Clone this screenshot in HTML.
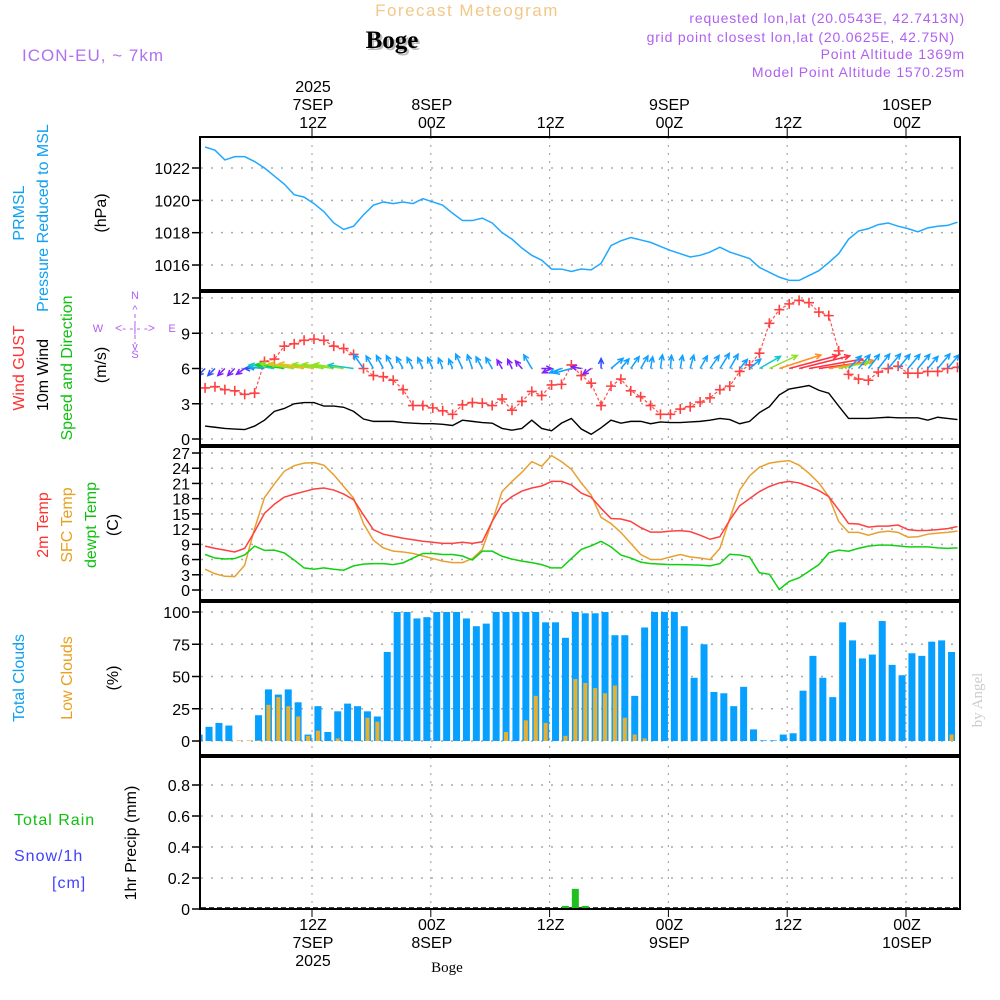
<!DOCTYPE html>
<html><head><meta charset="utf-8"><style>
html,body{margin:0;padding:0;background:#fff;}
svg{display:block;font-family:"Liberation Sans",sans-serif;}
</style></head><body>
<svg id="chart" width="1000" height="1000" viewBox="0 0 1000 1000" xmlns="http://www.w3.org/2000/svg">
<defs><clipPath id="plotclip"><rect x="201" y="137" width="758" height="772"/></clipPath></defs>
<text x="467" y="16" fill="#f2c88a" font-size="17" text-anchor="middle" letter-spacing="1.5">Forecast Meteogram</text>
<text x="392" y="48" fill="#bbb" font-size="25" font-weight="bold" font-family="Liberation Serif,serif" text-anchor="middle" dx="2" dy="2">Boge</text>
<text x="392" y="48" fill="#000" font-size="25" font-weight="bold" font-family="Liberation Serif,serif" text-anchor="middle">Boge</text>
<text x="22" y="61" fill="#b070f0" font-size="17" letter-spacing="1">ICON-EU, ~ 7km</text>
<g fill="#b060f0" font-size="14" text-anchor="end" letter-spacing="0.8">
<text x="965" y="23">requested lon,lat (20.0543E, 42.7413N)</text>
<text x="955" y="42">grid point closest lon,lat (20.0625E, 42.75N)</text>
<text x="965" y="59">Point Altitude 1369m</text>
<text x="965" y="77">Model Point Altitude 1570.25m</text>
</g>
<g font-size="16">
<text transform="translate(24,213) rotate(-90)" fill="#10a0f0" text-anchor="middle">PRMSL</text>
<text transform="translate(48,218) rotate(-90)" fill="#10a0f0" text-anchor="middle">Pressure Reduced to MSL</text>
<text transform="translate(106,213) rotate(-90)" fill="#000" text-anchor="middle">(hPa)</text>
<text transform="translate(24,368) rotate(-90)" fill="#ff3030" text-anchor="middle">Wind GUST</text>
<text transform="translate(48,375) rotate(-90)" fill="#000" text-anchor="middle">10m Wind</text>
<text transform="translate(72,368) rotate(-90)" fill="#10c010" text-anchor="middle">Speed and Direction</text>
<text transform="translate(106,365) rotate(-90)" fill="#000" text-anchor="middle">(m/s)</text>
<text transform="translate(48,525) rotate(-90)" fill="#ff3030" text-anchor="middle">2m Temp</text>
<text transform="translate(72,525) rotate(-90)" fill="#e8a020" text-anchor="middle">SFC Temp</text>
<text transform="translate(96,525) rotate(-90)" fill="#10c010" text-anchor="middle">dewpt Temp</text>
<text transform="translate(118,525) rotate(-90)" fill="#000" text-anchor="middle">(C)</text>
<text transform="translate(24,678) rotate(-90)" fill="#10a0f0" text-anchor="middle">Total Clouds</text>
<text transform="translate(72,678) rotate(-90)" fill="#e8a020" text-anchor="middle">Low Clouds</text>
<text transform="translate(118,678) rotate(-90)" fill="#000" text-anchor="middle">(%)</text>
<text x="14" y="825" fill="#10c010" letter-spacing="1">Total  Rain</text>
<text x="14" y="861" fill="#4040ff" letter-spacing="1">Snow/1h</text>
<text x="52" y="888" fill="#4040ff" letter-spacing="1">[cm]</text>
<text transform="translate(136,843) rotate(-90)" fill="#000" text-anchor="middle">1hr Precip (mm)</text>
</g>
<g fill="#b060f0" font-size="11" text-anchor="middle">
<text x="135" y="299">N</text><text x="135" y="358">S</text><text x="98" y="332">W</text><text x="172" y="332">E</text>
<text x="135" y="332" font-size="12">&lt;- -|- -&gt;</text>
<text x="135" y="313" font-size="11">^</text>
<line x1="135" y1="314" x2="135" y2="344" stroke="#b060f0" stroke-dasharray="4,3"/>
<text x="135" y="350" font-size="11">v</text>
</g>
<text transform="translate(982,700) rotate(-90)" fill="#ccc" font-size="15" font-family="Liberation Serif,serif" text-anchor="middle">by Angel</text>
<text x="447" y="972" fill="#000" font-size="15" font-family="Liberation Serif,serif" text-anchor="middle">Boge</text>
<g id="layer"></g>
</svg>
<script>
// ---- data (hourly from ~01Z 7SEP) ----
const pressure = [1023.3,1023.1,1022.5,1022.7,1022.7,1022.4,1022,1021.5,1021,1020.35,1020.2,1019.8,1019.3,1018.6,1018.2,1018.4,1019.1,1019.7,1019.9,1019.8,1019.9,1019.8,1020.1,1019.9,1019.7,1019.2,1018.75,1018.75,1018.9,1018.6,1018,1017.6,1017.05,1016.6,1016.3,1015.75,1015.75,1015.6,1015.75,1015.7,1016.1,1017.2,1017.5,1017.7,1017.55,1017.4,1017.15,1016.9,1016.7,1016.5,1016.6,1016.8,1017.1,1016.8,1016.6,1016.4,1015.85,1015.55,1015.25,1015.05,1015.05,1015.35,1015.65,1016.15,1016.7,1017.6,1018.1,1018.25,1018.5,1018.6,1018.4,1018.25,1018.05,1018.3,1018.4,1018.45,1018.65];
const gust = [4.35,4.45,4.2,4.1,3.8,3.9,6.6,6.8,7.9,8.1,8.4,8.5,8.4,7.9,7.7,7.2,6.0,5.4,5.3,5.0,4.2,2.85,2.85,2.65,2.4,2.1,2.9,3.1,3.05,2.85,3.4,2.45,3.2,4.05,3.7,4.6,4.65,6.3,5.4,4.75,2.85,4.5,5.1,4.1,3.6,2.85,2.1,2.1,2.55,2.75,3.15,3.5,4.2,4.5,5.75,6.3,7.3,9.85,11.0,11.5,11.8,11.6,10.8,10.5,7.5,5.5,5.1,5.0,5.7,6.0,6.2,5.6,5.6,5.75,5.75,6.0,6.1];
const wind10m = [1.1,1.0,0.9,0.85,0.8,1.1,1.6,2.35,2.6,3.0,3.1,3.1,2.8,2.8,2.7,2.35,1.7,1.5,1.5,1.5,1.4,1.35,1.3,1.3,1.25,1.15,1.6,1.5,1.4,1.35,0.9,0.75,0.9,1.6,0.9,0.7,1.35,1.75,0.85,0.4,0.95,1.6,1.35,1.5,1.5,1.3,1.45,1.4,1.4,1.45,1.5,1.6,1.75,1.65,1.3,1.5,2.25,2.75,3.75,4.25,4.4,4.55,4.15,3.9,2.8,1.75,1.75,1.75,1.8,1.85,1.8,1.8,1.8,1.6,1.85,1.75,1.65];
// arrow pointing direction, degrees (0 = east, 90 = north)
const windDir = [225,225,225,225,215,180,175,172,172,172,172,172,172,172,172,172,125,120,118,118,120,118,115,115,112,112,115,110,118,120,120,115,130,120,0,205,200,195,170,215,90,40,50,55,60,80,82,85,80,75,60,55,58,60,50,40,30,25,18,15,14,10,8,10,12,45,50,52,52,50,50,50,50,50,50,50,50];
const tempHours = pressure.map((_, i) => i);
const temp2m = [8.65,8.2,7.85,7.5,8.2,11.5,15.1,16.9,18.3,18.9,19.4,19.9,20.1,19.7,18.9,17.8,14.8,11.9,11.0,10.6,10.2,9.9,9.6,9.4,9.2,9.2,9.4,9.2,9.5,13.5,16.9,18.4,19.5,20.1,20.5,21.4,21.4,20.7,19.1,18.3,16.1,14.1,14.0,13.5,12.3,11.4,11.4,11.6,11.7,11.5,10.8,10.0,10.5,13.8,16.6,18.0,19.4,20.4,21.1,21.4,21.1,20.4,19.6,18.4,15.8,13.1,13.0,12.4,12.6,12.6,12.8,11.9,11.7,11.75,11.9,12.1,12.5];
const tempSfc = [4.1,3.2,2.7,2.65,4.9,12.1,18.2,20.9,23.4,24.5,25.0,25.1,24.6,22.7,20.4,18.1,13.1,9.8,8.3,7.65,7.5,7.2,6.7,6.2,5.7,5.4,5.4,6.2,8.0,13.5,19.4,21.4,23.2,25.3,24.4,26.5,25.3,23.8,21.1,18.7,14.3,13.1,11.35,9.2,7.0,6.0,6.0,6.5,7.0,6.5,6.3,6.0,8.2,14.1,19.7,22.5,24.2,25.0,25.3,25.5,24.6,23.0,21.1,18.4,13.5,11.35,11.35,10.8,11.35,11.6,11.35,10.4,10.5,11.0,11.2,11.35,11.6];
const dewpt = [7.0,6.3,6.1,6.2,6.9,8.65,7.8,7.85,7.3,5.9,4.35,4.1,4.35,4.1,3.9,4.75,5.1,5.2,5.2,5.0,5.35,6.3,7.2,7.2,7.0,7.0,6.7,5.9,7.65,7.65,6.65,6.1,5.7,5.4,5.0,4.35,4.35,6.2,8.0,8.7,9.6,8.5,6.9,6.3,5.5,5.2,5.1,5.0,5.0,4.95,4.9,4.75,5.2,7.05,6.9,6.5,3.4,3.1,0.1,1.7,2.4,3.7,5.0,7.3,7.85,7.65,8.2,8.65,8.85,8.85,8.7,8.5,8.5,8.5,8.3,8.2,8.3];
const totalClouds = [5,11,14,12,0,0,20,40,36,40,30,5,27,7,23,29,27,23,19,69,100,100,95,96,100,100,100,95,89,91,100,100,100,100,100,92,92,80,100,99,99,100,82,82,35,88,100,100,100,89,49,75,38,37,27,42,9,0.5,0.5,5,6,39,66,49,34,92,78,64,67,93,59,51,68,66,77,78,69,0];
const lowClouds = [0,0,0,0,0.5,0.5,0.5,28,34,27,19,4,8,0,2,0,0,18,15,0,0,0,0,0,0,0,0,0,0,0,0,7,0,16,35,14,0,4,48,45,41,37,43,18,5,2,0,0,0,0,0,0,0,0,0,0,0,0,0,0,0,0,0,0,0,0,0,0,0,0,0,0,0,0,0,0,5,0];
const precipHours = [37,38,39];
const precipVals = [0.02,0.13,0.02];
// ticks
const pTicks = [1016,1018,1020,1022];
const wTicks = [0,3,6,9,12];
const tTicks = [0,3,6,9,12,15,18,21,24,27];
const cTicks = [0,25,50,75,100];
const rTicks = [0,0.2,0.4,0.6,0.8];
const rTickLabels = ["0","0.2","0.4","0.6","0.8"];
const timeTicks = [12,24,36,48,60,72];
const topLabels = [["2025","7SEP","12Z"],["","8SEP","00Z"],["","","12Z"],["","9SEP","00Z"],["","","12Z"],["","10SEP","00Z"]];
const bottomLabels = [["12Z","7SEP","2025"],["00Z","8SEP",""],["12Z","",""],["00Z","9SEP",""],["12Z","",""],["00Z","10SEP",""]];

// ---- scales ----
const NS = "http://www.w3.org/2000/svg";
const X = h => 312 + (h - 12) * 9.9;
const lineH = k => k + 1.2;
const barH = k => k + 0.6;
const Yp = v => 168 + (1022 - v) * 16.17;
const Yw = v => 439 - v * 11.75;
const Yt = v => 590 - v * 5.074;
const Yc = v => 741 - v * 1.29;
const Yr = v => 909 - v * 155;
const layer = document.getElementById('layer');
function mk(tag, attrs, parent) { const e = document.createElementNS(NS, tag); for (const k in attrs) e.setAttribute(k, attrs[k]); (parent || layer).appendChild(e); return e; }

const panels = [[137,290],[292,445],[447,600],[602,755],[757,909]];
const grid = mk('g', {});


function hgrid(ticks, Y) { ticks.forEach(t => mk('line', {x1:201,x2:959,y1:Y(t),y2:Y(t),stroke:'#aaa','stroke-width':1.5,'stroke-dasharray':'2,8'}, grid)); }
hgrid(pTicks, Yp); hgrid(wTicks, Yw); hgrid(tTicks, Yt); hgrid(cTicks, Yc); hgrid(rTicks, Yr);
panels.forEach(p => timeTicks.forEach(h => mk('line', {x1:X(h),x2:X(h),y1:p[0],y2:p[1],stroke:'#aaa','stroke-width':1.2,'stroke-dasharray':'2,6'}, grid)));

function yAxis(ticks, labels, Y, name) {
  const g = mk('g', {'font-size':16,'text-anchor':'end',fill:'#000'});
  
  
  ticks.forEach((t, i) => { mk('line', {x1:192,x2:200,y1:Y(t),y2:Y(t),stroke:'#000','stroke-width':1.5}, g); const tx = mk('text', {x:190,y:Y(t)+6}, g); tx.textContent = labels[i]; });
}
yAxis(pTicks, pTicks.map(String), Yp, 'pressure-y-axis');
yAxis(wTicks, wTicks.map(String), Yw, 'wind-y-axis');
yAxis(tTicks, tTicks.map(String), Yt, 'temp-y-axis');
yAxis(cTicks, cTicks.map(String), Yc, 'clouds-y-axis');
yAxis(rTicks, rTickLabels, Yr, 'precip-y-axis');

const ta = mk('g', {'font-size':16,'text-anchor':'middle',fill:'#000'});


timeTicks.forEach((h, i) => {
  mk('line', {x1:X(h),x2:X(h),y1:127,y2:137,stroke:'#000'}, ta);
  mk('line', {x1:X(h),x2:X(h),y1:909,y2:917,stroke:'#000'}, ta);
  topLabels[i].forEach((s, j) => { if (s) { const t = mk('text', {x:X(h)+1,y:92+j*18}, ta); t.textContent = s; } });
  bottomLabels[i].forEach((s, j) => { if (s) { const t = mk('text', {x:X(h)+1,y:930+j*18}, ta); t.textContent = s; } });
});

const plot = mk('g', {'clip-path':'url(#plotclip)'});
const pl = mk('polyline', {points: pressure.map((v,k)=>X(lineH(k))+','+Yp(v)).join(' '), fill:'none', stroke:'#20a8ff','stroke-width':1.5}, plot);


const wl = mk('polyline', {points: wind10m.map((v,k)=>X(lineH(k))+','+Yw(v)).join(' '), fill:'none', stroke:'#000','stroke-width':1.4}, plot);


const gl = mk('polyline', {points: gust.map((v,k)=>X(lineH(k))+','+Yw(v)).join(' '), fill:'none', stroke:'#ff5050','stroke-width':1.2,'stroke-dasharray':'3,2'}, plot);


gust.forEach((v,k) => {
  const x = X(lineH(k)), y = Yw(v);
  const m = mk('path', {d:`M${x-5},${y}H${x+5}M${x},${y-5}V${y+5}`, stroke:'#ff4040','stroke-width':1.6}, plot);
  
  
});
function spdColor(s) {
  if (s < 0.95) return '#8020ff'; if (s < 1.15) return '#3050ff'; if (s < 2.1) return '#10a0ff';
  if (s < 2.4) return '#10c8c8'; if (s < 2.7) return '#10d020'; if (s < 3.05) return '#90e020';
  if (s < 3.5) return '#e0c020'; if (s < 4.0) return '#ff9020'; return '#ff3040';
}
windDir.forEach((d,k) => {
  const s = wind10m[k], L = Math.max(10, s * 13 - 5), a = d * Math.PI / 180;
  const x0 = X(lineH(k)), y0 = Yw(6), x1 = x0 + L*Math.cos(a), y1 = y0 - L*Math.sin(a);
  const c = spdColor(s);
  const h1 = a + Math.PI - 0.45, h2 = a + Math.PI + 0.45;
  const ar = mk('path', {d:`M${x0},${y0}L${x1},${y1}M${x1+6*Math.cos(h1)},${y1-6*Math.sin(h1)}L${x1},${y1}L${x1+6*Math.cos(h2)},${y1-6*Math.sin(h2)}`, stroke:c, fill:'none','stroke-width':1.5}, plot);
  
  
});
[[tempSfc,'#e8a030','sfc-temp-line'],[temp2m,'#ff4040','temp-2m-line'],[dewpt,'#10d010','dewpoint-line']].forEach(([arr,c,n]) => {
  const l = mk('polyline', {points: arr.map((v,k)=>X(lineH(tempHours[k]))+','+Yt(v)).join(' '), fill:'none', stroke:c,'stroke-width':1.5}, plot);
  
  
});
totalClouds.forEach((v,k) => {
  const x = X(barH(k));
  const b = mk('rect', {x:x-3.5, y:Yc(v), width:7, height:Yc(0)-Yc(v), fill:'#08a0ff'}, plot);
  
  
  const lv = lowClouds[k];
  if (lv > 0) {
    const lb = mk('rect', {x:x-2, y:Yc(lv), width:4, height:Yc(0)-Yc(lv), fill:'#e8b030'}, plot);
    
    
  }
});
mk('line', {x1:201,x2:959,y1:908,y2:908,stroke:'#000','stroke-width':1.5,'stroke-dasharray':'5,3'}, plot);
precipHours.forEach((h,i) => {
  const b = mk('rect', {x:X(barH(h))-3.5, y:Yr(precipVals[i]), width:7, height:Yr(0)-Yr(precipVals[i]), fill:'#20c020'}, plot);
  
  
});
panels.forEach((p,i) => {
  const r = mk('rect', {x:200, y:p[0], width:760, height:p[1]-p[0], fill:'none', stroke:'#000','stroke-width':2});
  
  
});
</script>
</body></html>
